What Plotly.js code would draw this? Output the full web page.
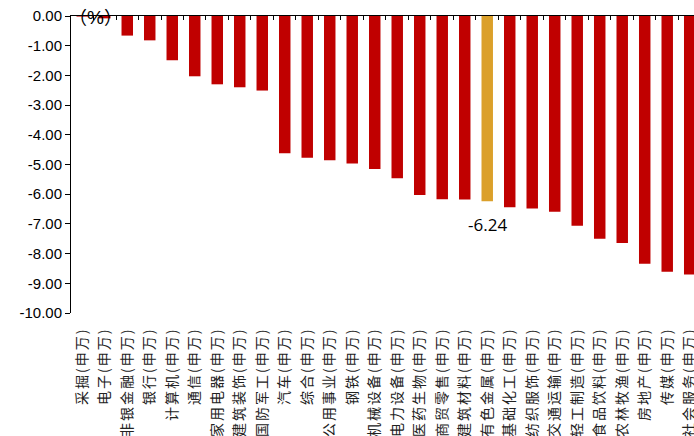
<!DOCTYPE html>
<html>
<head>
<meta charset="utf-8">
<script src="https://cdn.plot.ly/plotly-3.0.1.min.js"></script>
<style>
  html, body { margin: 0; padding: 0; background: #ffffff; }
  #chart { width: 694px; height: 436px; }
  /* roomier spacing for the industry names */
  #chart .xtick text { letter-spacing: 2px; }
</style>
</head>
<body>
<div id="chart"></div>
<script>
// Shenwan level-1 industries, weekly change (%)
const industries = [
  '采掘(申万)', '电子(申万)', '非银金融(申万)', '银行(申万)', '计算机(申万)',
  '通信(申万)', '家用电器(申万)', '建筑装饰(申万)', '国防军工(申万)', '汽车(申万)',
  '综合(申万)', '公用事业(申万)', '钢铁(申万)', '机械设备(申万)', '电力设备(申万)',
  '医药生物(申万)', '商贸零售(申万)', '建筑材料(申万)', '有色金属(申万)', '基础化工(申万)',
  '纺织服饰(申万)', '交通运输(申万)', '轻工制造(申万)', '食品饮料(申万)', '农林牧渔(申万)',
  '房地产(申万)', '传媒(申万)', '社会服务(申万)'
];
const changes = [
  -0.02, -0.08, -0.66, -0.82, -1.49,
  -2.03, -2.30, -2.40, -2.51, -4.62,
  -4.77, -4.86, -4.97, -5.15, -5.46,
  -6.03, -6.17, -6.18, -6.24, -6.44,
  -6.48, -6.59, -7.06, -7.50, -7.64,
  -8.34, -8.61, -8.70
];
const highlighted = '有色金属(申万)';
const yTicks = [0, -1, -2, -3, -4, -5, -6, -7, -8, -9, -10];

const RED = '#C00000';
const GOLD = '#DBA02A';

const idx = industries.map((_, i) => i);
const colors = industries.map(n => n === highlighted ? GOLD : RED);
const hi = industries.indexOf(highlighted);

const bars = {
  type: 'bar',
  x: idx,
  y: changes,
  width: 0.51,
  marker: { color: colors, line: { width: 0 } },
  hoverinfo: 'x+y',
  xaxis: 'x',
  yaxis: 'y'
};
// companion trace so the top (zero-line) axis is drawn on the same scale
const topAxisTrace = {
  type: 'scatter',
  x: idx,
  y: changes,
  mode: 'none',
  hoverinfo: 'skip',
  showlegend: false,
  xaxis: 'x2',
  yaxis: 'y'
};

const xRange = [-0.5, 27.19];

const layout = {
  width: 694,
  height: 436,
  margin: { l: 71, r: 0, t: 16, b: 123 },
  paper_bgcolor: '#ffffff',
  plot_bgcolor: '#ffffff',
  showlegend: false,
  font: { family: 'Liberation Sans, Arial, sans-serif', color: '#000000' },
  xaxis: {
    type: 'linear',
    range: xRange,
    tickmode: 'array',
    tickvals: idx,
    ticktext: industries,
    tickangle: -90,
    ticklabeloverflow: 'allow',
    tickfont: { family: 'Noto Sans CJK SC', size: 14, color: '#222222' },
    ticks: 'outside',
    ticklen: 8,
    tickcolor: 'rgba(0,0,0,0)',
    showline: false,
    showgrid: false,
    zeroline: false,
    fixedrange: true
  },
  xaxis2: {
    type: 'linear',
    overlaying: 'x',
    side: 'top',
    anchor: 'y',
    range: xRange,
    tickmode: 'array',
    tickvals: idx.map(i => i + 0.5),
    ticks: 'inside',
    ticklen: 4,
    tickwidth: 1,
    tickcolor: '#000000',
    showticklabels: false,
    showline: true,
    linecolor: '#000000',
    linewidth: 1.5,
    showgrid: false,
    zeroline: false,
    fixedrange: true
  },
  yaxis: {
    range: [-10, 0],
    tickmode: 'array',
    tickvals: yTicks,
    ticktext: yTicks.map(v => v.toFixed(2)),
    tickfont: { family: 'Liberation Sans, Arial, sans-serif', size: 15, color: '#000000' },
    ticks: 'outside',
    ticklen: 5,
    tickwidth: 1,
    tickcolor: '#000000',
    showline: true,
    linecolor: '#000000',
    linewidth: 1,
    showgrid: false,
    zeroline: false,
    fixedrange: true
  },
  annotations: [
    {
      xref: 'x',
      yref: 'y',
      x: hi,
      y: changes[hi],
      text: changes[hi].toFixed(2),
      showarrow: false,
      yanchor: 'top',
      xanchor: 'center',
      yshift: -10,
      font: { family: 'Open Sans, Noto Sans, sans-serif', size: 17, color: '#000000' }
    },
    {
      xref: 'paper',
      yref: 'paper',
      x: 0.040,
      y: 1,
      text: '（<span style="font-family:Liberation Sans;font-size:19px">%</span>）',
      showarrow: false,
      xanchor: 'center',
      yanchor: 'middle',
      font: { family: 'Noto Sans CJK SC', size: 18, color: '#000000' }
    }
  ]
};

Plotly.newPlot('chart', [bars, topAxisTrace], layout, { displayModeBar: false, staticPlot: true });
</script>
</body>
</html>
